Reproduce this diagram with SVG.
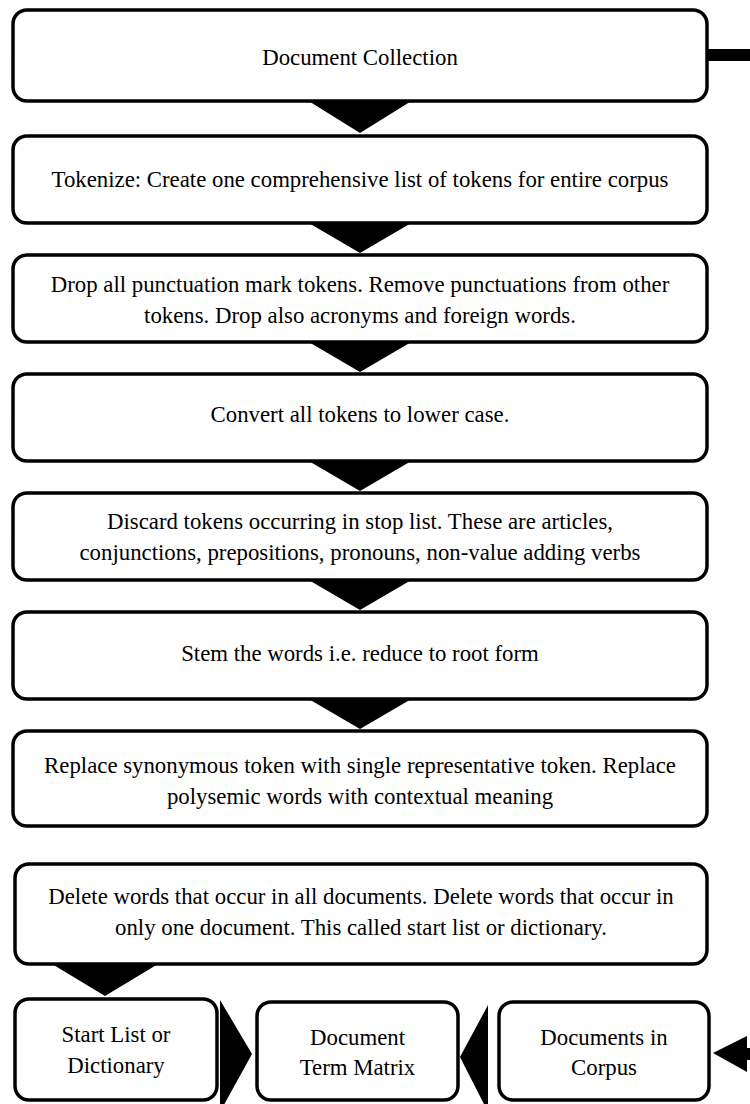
<svg xmlns="http://www.w3.org/2000/svg" width="750" height="1104" viewBox="0 0 750 1104">
<style>
.box{fill:#fff;stroke:#000;stroke-width:3.5}
.t{font-family:"Liberation Serif","Times New Roman",serif;font-size:22.8px;fill:#000;text-anchor:middle}
.arr{fill:#000;stroke:none}
</style>
<rect width="750" height="1104" fill="#fff"/>
<g id="connectors">
<rect class="arr" x="707" y="49" width="43" height="12"/>
<polygon class="arr" points="307,100 413,100 360,133"/>
<polygon class="arr" points="307,222 413,222 360,253"/>
<polygon class="arr" points="307,341 413,341 360,372"/>
<polygon class="arr" points="307,460 413,460 360,491"/>
<polygon class="arr" points="307,579 413,579 360,610"/>
<polygon class="arr" points="307,698 413,698 360,729"/>
<polygon class="arr" points="52,964 158,964 105,996"/>
<polygon class="arr" points="220,1000 220,1112 252,1054"/>
<polygon class="arr" points="488,1005 488,1112 460,1057"/>
<polygon class="arr" points="713,1053 747,1036 747,1072"/>
<rect class="arr" x="745" y="1048" width="5" height="12"/>
</g>
<g id="n1"><rect class="box" x="13" y="10" width="694" height="91" rx="14"/><text class="t" x="360" y="65">Document Collection</text></g>
<g id="n2"><rect class="box" x="13" y="136" width="694" height="87" rx="14"/><text class="t" x="360" y="187">Tokenize: Create one comprehensive list of tokens for entire corpus</text></g>
<g id="n3"><rect class="box" x="13" y="255" width="694" height="87" rx="14"/><text class="t" x="360" y="292">Drop all punctuation mark tokens. Remove punctuations from other</text><text class="t" x="360" y="323">tokens. Drop also acronyms and foreign words.</text></g>
<g id="n4"><rect class="box" x="13" y="374" width="694" height="87" rx="14"/><text class="t" x="360" y="422">Convert all tokens to lower case.</text></g>
<g id="n5"><rect class="box" x="13" y="493" width="694" height="87" rx="14"/><text class="t" x="360" y="529">Discard tokens occurring in stop list. These are articles,</text><text class="t" x="360" y="560">conjunctions, prepositions, pronouns, non-value adding verbs</text></g>
<g id="n6"><rect class="box" x="13" y="612" width="694" height="87" rx="14"/><text class="t" x="360" y="661">Stem the words i.e. reduce to root form</text></g>
<g id="n7"><rect class="box" x="13" y="731" width="694" height="95" rx="14"/><text class="t" x="360" y="773">Replace synonymous token with single representative token. Replace</text><text class="t" x="360" y="804">polysemic words with contextual meaning</text></g>
<g id="n8"><rect class="box" x="15" y="864" width="692" height="100" rx="14"/><text class="t" x="361" y="904">Delete words that occur in all documents. Delete words that occur in</text><text class="t" x="361" y="935">only one document. This called start list or dictionary.</text></g>
<g id="n9"><rect class="box" x="15" y="999" width="202" height="101" rx="14"/><text class="t" x="116" y="1042">Start List or</text><text class="t" x="116" y="1073">Dictionary</text></g>
<g id="n10"><rect class="box" x="257" y="1002" width="201" height="98" rx="14"/><text class="t" x="357.5" y="1045">Document</text><text class="t" x="357.5" y="1075">Term Matrix</text></g>
<g id="n11"><rect class="box" x="499" y="1002" width="210" height="98" rx="14"/><text class="t" x="604" y="1045">Documents in</text><text class="t" x="604" y="1075">Corpus</text></g>
</svg>
